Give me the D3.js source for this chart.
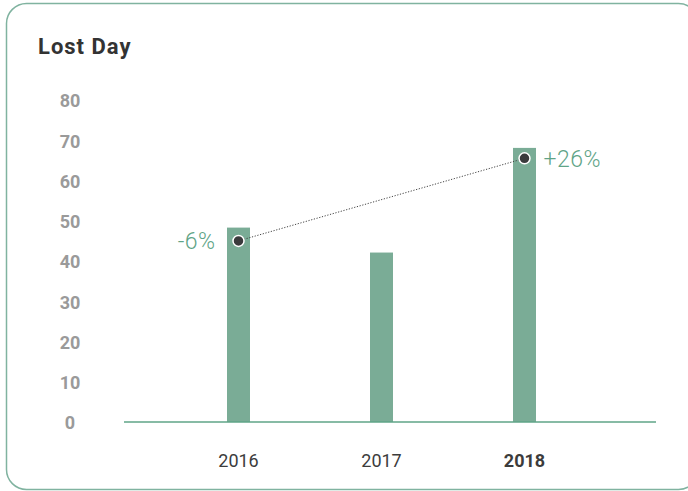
<!DOCTYPE html>
<html>
<head>
<meta charset="utf-8">
<script src="https://cdn.jsdelivr.net/npm/d3@7"></script>
<style>
  body { margin: 0; background: #fff; }
  svg { display: block; font-family: Roboto, "DejaVu Sans", sans-serif; }
</style>
</head>
<body>
<div id="chart"></div>
<script>
// data
const years = ["2016", "2017", "2018"];
const lostDays = [48.3, 42.1, 68.1];
const markerYears = ["2016", "2018"];
const markerValues = [45.0, 65.5];
const markerLabels = ["-6%", "+26%"];
const yTicks = [0, 10, 20, 30, 40, 50, 60, 70, 80];

const width = 688, height = 491;
const green = "#7aac96";

const svg = d3.select("#chart").append("svg")
    .attr("width", width)
    .attr("height", height);

// card border
svg.append("rect")
    .attr("x", 6.5).attr("y", 3.5)
    .attr("width", 692).attr("height", 486)
    .attr("rx", 20)
    .attr("fill", "none")
    .attr("stroke", "#80b3a0")
    .attr("stroke-width", 1.5);

// title
svg.append("text")
    .attr("x", 38).attr("y", 54)
    .attr("fill", "#333")
    .style("font-size", "22px")
    .style("font-weight", "bold")
    .style("letter-spacing", "1px")
    .text("Lost Day");

const x = d3.scaleBand()
    .domain(years)
    .range([167, 596])
    .paddingInner(0)
    .paddingOuter(0);

const y = d3.scaleLinear()
    .domain([0, 80])
    .range([422, 100]);

const barWidth = 23;

// y tick labels
svg.append("g").selectAll("text")
    .data(yTicks)
    .join("text")
    .attr("x", 70)
    .attr("y", d => y(d) + 1)
    .attr("dy", "0.36em")
    .attr("text-anchor", "middle")
    .attr("fill", "#9a9a9a")
    .style("font-size", "18px")
    .style("font-weight", "bold")
    .text(d => d);

// bars
svg.append("g").selectAll("rect")
    .data(years)
    .join("rect")
    .attr("x", (d) => x(d) + x.bandwidth() / 2 - barWidth / 2)
    .attr("y", (d, i) => y(lostDays[i]))
    .attr("width", barWidth)
    .attr("height", (d, i) => y(0) - y(lostDays[i]))
    .attr("fill", green);

// baseline
svg.append("line")
    .attr("x1", 124).attr("x2", 656)
    .attr("y1", y(0)).attr("y2", y(0))
    .attr("stroke", "#5fa487")
    .attr("stroke-width", 1.5);

// year labels
svg.append("g").selectAll("text")
    .data(years)
    .join("text")
    .attr("x", d => x(d) + x.bandwidth() / 2)
    .attr("y", 467)
    .attr("text-anchor", "middle")
    .attr("fill", "#3c3c3c")
    .style("font-size", "18px")
    .style("font-weight", (d, i) => i === years.length - 1 ? "bold" : "normal")
    .text(d => d);

// dotted trend line between markers
const mx = d => x(d) + x.bandwidth() / 2;
svg.append("line")
    .attr("x1", mx(markerYears[0])).attr("y1", y(markerValues[0]))
    .attr("x2", mx(markerYears[1])).attr("y2", y(markerValues[1]))
    .attr("stroke", "#444")
    .attr("stroke-width", 1)
    .attr("stroke-dasharray", "1.2,1.6");

// markers
svg.append("g").selectAll("circle")
    .data(markerYears)
    .join("circle")
    .attr("cx", d => mx(d))
    .attr("cy", (d, i) => y(markerValues[i]))
    .attr("r", 5.5)
    .attr("fill", "#3a3a3c")
    .attr("stroke", "#fff")
    .attr("stroke-width", 1.5);

// percentage labels
svg.append("g").selectAll("text")
    .data(markerYears)
    .join("text")
    .attr("x", (d, i) => i === 0 ? mx(d) - 23 : mx(d) + 19)
    .attr("y", (d, i) => y(markerValues[i]))
    .attr("dy", "0.36em")
    .attr("text-anchor", (d, i) => i === 0 ? "end" : "start")
    .attr("fill", "#5fa487")
    .style("font-size", "23px")
    .style("font-weight", "300")
    .style("letter-spacing", "0.5px")
    .text((d, i) => markerLabels[i]);
</script>
</body>
</html>
